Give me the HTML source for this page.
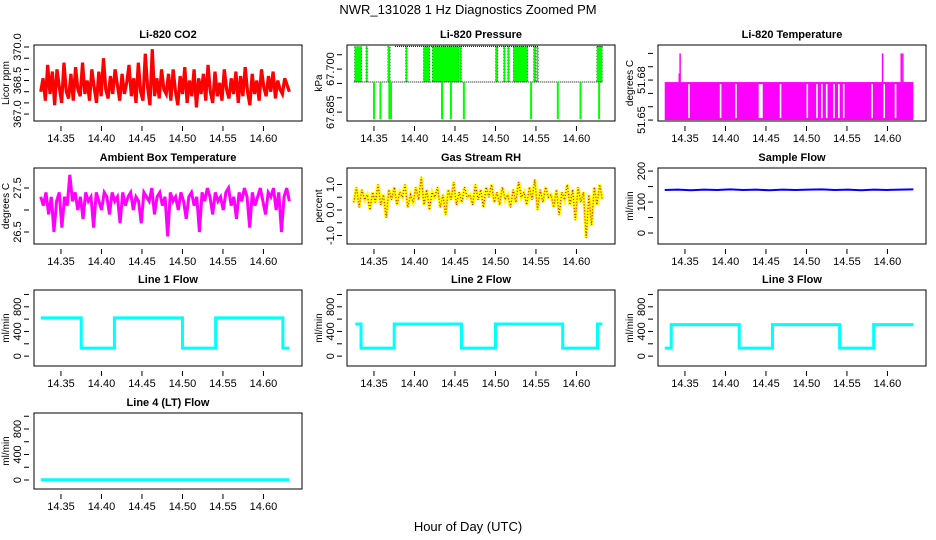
<!DOCTYPE html>
<html><head><meta charset="utf-8"><style>
body{margin:0;background:#fff}
svg{display:block;font-family:"Liberation Sans",sans-serif}
</style></head><body>
<svg id="c" width="936" height="540" viewBox="0 0 936 540">
<text x="468" y="14" text-anchor="middle" font-size="13">NWR_131028  1 Hz Diagnostics Zoomed PM</text>
<text x="468" y="531" text-anchor="middle" font-size="13">Hour of Day (UTC)</text>
</svg>
<script>
const xTicks = [14.35, 14.40, 14.45, 14.50, 14.55, 14.60];
const xTickLabels = ["14.35", "14.40", "14.45", "14.50", "14.55", "14.60"];
const tStart = 14.325, tEnd = 14.632;
const co2 = [368.0,368.6,367.6,369.2,367.9,368.9,367.4,369.0,368.2,367.5,369.3,368.0,367.7,368.8,367.6,369.1,368.1,367.8,369.3,367.9,368.5,367.6,369.0,368.2,367.5,368.9,367.8,369.5,368.1,367.7,368.7,367.9,369.0,368.3,367.6,368.8,367.9,368.4,369.2,367.8,368.6,367.5,369.3,368.0,367.6,369.7,368.2,367.4,369.9,367.8,368.6,367.7,369.0,368.1,367.9,368.8,367.6,369.0,368.0,367.4,368.7,367.9,369.1,367.5,368.5,367.8,369.0,367.3,368.6,367.9,368.8,367.6,369.2,368.0,367.5,368.9,367.8,368.4,367.6,369.0,368.1,367.7,368.6,367.9,368.9,367.5,368.7,367.8,369.1,368.0,367.4,368.8,367.9,368.5,367.6,369.0,368.2,367.8,368.7,368.0,368.9,367.7,368.5,368.1,367.9,368.6,368.3,368.0];
const ambient = [27.3,27.1,27.4,26.9,27.3,26.5,27.2,27.4,26.6,27.3,27.1,27.8,27.2,27.4,27.0,27.3,26.8,27.4,27.2,27.3,26.6,27.4,27.2,27.0,27.4,27.3,26.9,27.4,27.2,27.3,26.7,27.4,27.1,27.3,27.4,27.0,27.3,27.2,26.7,27.4,27.3,27.2,27.5,26.9,27.3,27.4,27.1,27.3,26.4,27.4,27.2,27.3,27.0,27.4,27.2,26.8,27.3,27.4,27.1,27.3,26.5,27.4,27.2,27.5,27.3,26.9,27.4,27.2,27.3,27.0,27.4,27.5,27.1,27.3,26.8,27.4,27.2,27.5,27.3,26.6,27.4,27.1,27.3,27.5,27.2,26.9,27.4,27.3,27.5,27.0,27.4,26.5,27.3,27.5,27.2];
const rh = [0.3,0.9,0.1,0.8,0.4,0.6,0.0,0.7,0.3,1.0,0.2,0.6,-0.3,0.8,0.4,0.9,0.2,0.7,0.5,1.0,0.1,0.6,0.3,0.9,0.4,1.3,0.2,0.8,0.0,0.7,0.5,0.9,0.1,0.6,-0.2,0.8,0.4,1.1,0.2,0.7,0.3,0.9,0.5,0.6,0.2,1.0,0.4,0.8,0.1,0.9,0.5,1.0,0.3,0.7,0.2,0.9,0.4,0.6,0.1,0.8,0.3,1.1,0.5,0.7,0.2,0.9,0.4,1.2,0.0,0.8,0.3,0.9,0.5,0.6,0.1,0.8,-0.2,0.7,0.4,1.0,0.2,0.8,-0.4,0.9,0.3,0.7,-1.1,0.6,-0.6,0.9,0.2,1.0,0.4];
const sampleFlow = [139,140,138,140,139,141,139,140,138,140,139,140,141,139,140,138,140,139,140,141];
const pressLevels = [67.6826, 67.6955, 67.7079];
const pressFillRuns = [[14.326,14.335],[14.340,14.342],[14.367,14.370],[14.389,14.391],[14.411,14.419],[14.422,14.455],[14.456,14.458],[14.500,14.503],[14.510,14.512],[14.515,14.517],[14.522,14.540],[14.547,14.550],[14.551,14.552],[14.625,14.632]];
const pressTopRuns = [[14.376,14.553],[14.626,14.632]];
const pressDownSpikes = [14.350,14.358,14.369,14.371,14.434,14.445,14.461,14.544,14.577,14.605,14.628];
const tempBandTop = 51.6785, tempBase = 51.65;
const tempGaps = [[14.354,14.356],[14.393,14.395],[14.412,14.414],[14.441,14.446],[14.467,14.469],[14.500,14.502],[14.512,14.514],[14.518,14.520],[14.524,14.526],[14.533,14.535],[14.539,14.541],[14.545,14.547],[14.580,14.582],[14.595,14.597],[14.609,14.611]];
const tempSpikes = [[14.343,51.685],[14.344,51.70],[14.594,51.70],[14.617,51.70],[14.619,51.70]];
const line1 = [[14.325,620],[14.375,130],[14.416,620],[14.500,130],[14.541,620],[14.624,130],[14.632,130]];
const line2 = [[14.327,520],[14.334,130],[14.375,520],[14.458,130],[14.500,520],[14.583,130],[14.626,520],[14.632,520]];
const line3 = [[14.325,130],[14.333,510],[14.417,130],[14.458,510],[14.541,130],[14.583,510],[14.632,510]];
const line4 = [[14.325,5],[14.632,5]];

const NS = "http://www.w3.org/2000/svg";
const svg = document.getElementById('c');
function mk(tag, attrs, parent){const e=document.createElementNS(NS,tag);for(const k in attrs)e.setAttribute(k,attrs[k]);(parent||svg).appendChild(e);return e;}
const XL = 14.3167, XR = 14.6476, W = 268, H = 76;
function panel(name, L, T, ylim, yt, ylabs, ylab, title){
  const g = mk('g',{});
  
  
  const sx = t => L + (t - XL) / (XR - XL) * W;
  const sy = v => T + H - (v - ylim[0]) / (ylim[1] - ylim[0]) * H;
  const tt = mk('text',{x:L+W/2,y:T-7,'text-anchor':'middle','font-size':11,'font-weight':'bold'},g);
  tt.textContent = title;
  
  
  const xa = mk('g',{stroke:'#000','stroke-width':1},g);
  
  
  xTicks.forEach((v,i)=>{
    mk('line',{x1:sx(v),y1:T+H+5,x2:sx(v),y2:T+H+10},xa);
    const tx = mk('text',{x:sx(v),y:T+H+21,'text-anchor':'middle','font-size':11,stroke:'none'},xa);
    tx.textContent = xTickLabels[i];
  });
  const ya = mk('g',{stroke:'#000','stroke-width':1},g);
  
  
  yt.forEach(v=>mk('line',{x1:L-5,y1:sy(v),x2:L-10,y2:sy(v)},ya));
  ylabs.forEach(l=>{
    const tx = mk('text',{x:0,y:0,'text-anchor':'middle','font-size':11,stroke:'none',transform:`translate(${L-13},${sy(l[0])}) rotate(-90)`},ya);
    tx.textContent = l[1];
  });
  const yl = mk('text',{x:0,y:0,'text-anchor':'middle','font-size':10,transform:`translate(${L-25},${T+H/2}) rotate(-90)`},g);
  yl.textContent = ylab;
  
  
  const plot = mk('g',{},g);
  const clip = mk('clipPath',{id:'cl'+name},g);
  mk('rect',{x:L,y:T,width:W,height:H},clip);
  plot.setAttribute('clip-path','url(#cl'+name+')');
  mk('rect',{x:L,y:T,width:W,height:H,fill:'none',stroke:'#000','stroke-width':1},g);
  return {sx, sy, plot};
}
function idxT(i,n){return tStart + i/(n-1)*(tEnd-tStart);}
function seriesPts(arr,p){return arr.map((v,i)=>p.sx(idxT(i,arr.length))+','+p.sy(v)).join(' ');}
function stepPts(arr,p){let s=[];arr.forEach((d,i)=>{if(i>0)s.push(p.sx(d[0])+','+p.sy(arr[i-1][1]));s.push(p.sx(d[0])+','+p.sy(d[1]));});return s.join(' ');}

const cL=[34,347,658], rT=[45,168,290,413];
// CO2
let p = panel('co2', cL[0], rT[0], [366.69,370.09], [367,367.5,368,368.5,369,369.5,370], [[367,'367.0'],[368.5,'368.5'],[370,'370.0']], 'Licor ppm', 'Li-820 CO2');
let e = mk('polyline',{points:seriesPts(co2,p),fill:'none',stroke:'#f00','stroke-width':3.2,'stroke-linejoin':'miter'},p.plot);


// Pressure
p = panel('pressure', cL[1], rT[0], [67.6819,67.7084], [67.685,67.69,67.695,67.70,67.705], [[67.685,'67.685'],[67.70,'67.700']], 'kPa', 'Li-820 Pressure');
pressFillRuns.forEach(r=>{
  e = mk('rect',{x:p.sx(r[0]),y:p.sy(pressLevels[2]),width:Math.max(1.5,p.sx(r[1])-p.sx(r[0])),height:p.sy(pressLevels[1])-p.sy(pressLevels[2]),fill:'#0f0'},p.plot);
  
  
  mk('rect',{x:p.sx(r[0]),y:p.sy(pressLevels[2]),width:Math.max(1.5,p.sx(r[1])-p.sx(r[0])),height:p.sy(pressLevels[1])-p.sy(pressLevels[2]),fill:'none',stroke:'#000','stroke-width':0.4,'stroke-dasharray':'1 2'},p.plot);
});
e = mk('line',{x1:p.sx(tStart),x2:p.sx(tEnd),y1:p.sy(pressLevels[1]),y2:p.sy(pressLevels[1]),stroke:'#000','stroke-width':1,'stroke-dasharray':'1 1'},p.plot);


pressTopRuns.forEach(r=>{
  e = mk('line',{x1:p.sx(r[0]),x2:p.sx(r[1]),y1:p.sy(pressLevels[2]),y2:p.sy(pressLevels[2]),stroke:'#000','stroke-width':1,'stroke-dasharray':'1 1'},p.plot);
  
  
});
pressDownSpikes.forEach(t=>{
  e = mk('line',{x1:p.sx(t),x2:p.sx(t),y1:p.sy(pressLevels[1]),y2:p.sy(pressLevels[0]),stroke:'#0f0','stroke-width':2},p.plot);
  
  
});
// Temperature
p = panel('temperature', cL[2], rT[0], [51.6493,51.7063], [51.65,51.66,51.67,51.68,51.69,51.70], [[51.65,'51.65'],[51.68,'51.68']], 'degrees C', 'Li-820 Temperature');
e = mk('rect',{x:p.sx(tStart),y:p.sy(tempBandTop),width:p.sx(tEnd)-p.sx(tStart),height:p.sy(tempBase)-p.sy(tempBandTop),fill:'#f0f'},p.plot);


tempGaps.forEach(r=>{
  e = mk('rect',{x:p.sx(r[0]),y:p.sy(tempBandTop)+2,width:p.sx(r[1])-p.sx(r[0]),height:p.sy(tempBase)-p.sy(tempBandTop)-4,fill:'#fff'},p.plot);
  
  
});
tempSpikes.forEach(s=>{
  e = mk('line',{x1:p.sx(s[0]),x2:p.sx(s[0]),y1:p.sy(tempBandTop),y2:p.sy(s[1]),stroke:'#f0f','stroke-width':1.5},p.plot);
  
  
});
// Ambient
p = panel('ambient', cL[0], rT[1], [26.227,27.955], [26.5,27,27.5], [[26.5,'26.5'],[27.5,'27.5']], 'degrees C', 'Ambient Box Temperature');
e = mk('polyline',{points:seriesPts(ambient,p),fill:'none',stroke:'#f0f','stroke-width':3},p.plot);


// RH
p = panel('rh', cL[1], rT[1], [-1.333,1.647], [-1,-0.5,0,0.5,1], [[-1,'-1.0'],[0,'0.0'],[1,'1.0']], 'percent', 'Gas Stream RH');
e = mk('polyline',{points:seriesPts(rh,p),fill:'none',stroke:'#ff0','stroke-width':3.2},p.plot);


mk('polyline',{points:seriesPts(rh,p),fill:'none',stroke:'#e00','stroke-width':1.2,'stroke-dasharray':'1 2'},p.plot);
// Sample flow
p = panel('sample-flow', cL[2], rT[1], [-35.5,210], [0,50,100,150,200], [[0,'0'],[100,'100'],[200,'200']], 'ml/min', 'Sample Flow');
e = mk('polyline',{points:seriesPts(sampleFlow,p),fill:'none',stroke:'#00f','stroke-width':2},p.plot);


// Line flows
const flowTicks=[0,200,400,600,800,1000], flowLabs=[[0,'0'],[400,'400'],[800,'800']];
[[line1,'line1-flow','Line 1 Flow',cL[0],rT[2],[-160,1072]],[line2,'line2-flow','Line 2 Flow',cL[1],rT[2],[-160,1072]],[line3,'line3-flow','Line 3 Flow',cL[2],rT[2],[-160,1072]],[line4,'line4-flow','Line 4 (LT) Flow',cL[0],rT[3],[-141,1051]]].forEach(c=>{
  const q = panel(c[1], c[3], c[4], c[5], flowTicks, flowLabs, 'ml/min', c[2]);
  const s = mk('polyline',{points:stepPts(c[0],q),fill:'none',stroke:'#0ff','stroke-width':3},q.plot);
  
  
});
</script>
</body></html>
